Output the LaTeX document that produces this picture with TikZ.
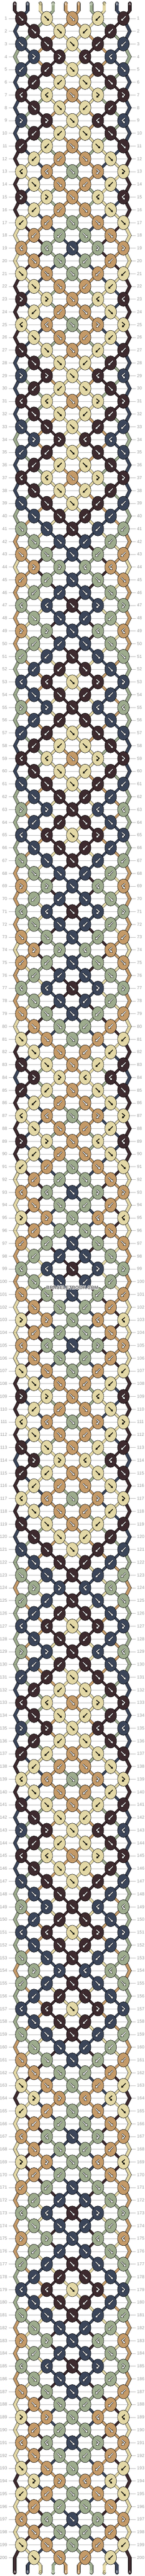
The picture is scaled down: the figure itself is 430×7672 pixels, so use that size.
\documentclass[tikz,border=0pt]{standalone}
\usepackage{fontspec}
\setmainfont{Liberation Sans}
\usetikzlibrary{arrows.meta}
\definecolor{cA}{HTML}{3D2A2E}
\definecolor{cB}{HTML}{3B4559}
\definecolor{cC}{HTML}{E3D8A6}
\definecolor{cD}{HTML}{9DAB8D}
\definecolor{cE}{HTML}{C49A68}
\definecolor{gridgrey}{HTML}{BDBDBD}
\definecolor{numgrey}{HTML}{9A9A9A}
\definecolor{labdark}{HTML}{2A2A2A}
\definecolor{wmgrey}{HTML}{5E5E5E}

% ---------- knot-type template (period 40 rows, left half) ----------
\def\mirF{B}\def\mirB{F}\def\mirR{L}\def\mirL{R}
\foreach \tl [count=\kn] in {F,F,F,R,B,B,L,F,R,B,B,B,L,F,R,B,B,B,L,F,F,F,R,B,L,F,F,F,R,B,L,F,F,R,B,B,L,F,F,F}{\expandafter\xdef\csname tpl\kn\endcsname{\tl}}

% ---------- simulation ----------
\newcommand\simknot[4]{%
  \pgfmathtruncatemacro\ppq{#3+1}%
  \edef\lcol{\csname s@\prw @#3\endcsname}%
  \edef\rcol{\csname s@\prw @\ppq\endcsname}%
  \if#4F\relax\edef\kcol{\lcol}\def\doswap{1}\fi
  \if#4B\relax\edef\kcol{\rcol}\def\doswap{1}\fi
  \if#4R\relax\edef\kcol{\lcol}\def\doswap{0}\fi
  \if#4L\relax\edef\kcol{\rcol}\def\doswap{0}\fi
  \expandafter\xdef\csname kc@#1@#2\endcsname{\kcol}%
  \expandafter\xdef\csname kt@#1@#2\endcsname{#4}%
  \if1\doswap
    \expandafter\xdef\csname s@#1@#3\endcsname{\rcol}%
    \expandafter\xdef\csname s@#1@\ppq\endcsname{\lcol}%
  \fi
}
\foreach \i/\cl in {0/A,1/B,2/C,3/D,4/E,5/E,6/D,7/C,8/B,9/A}{\expandafter\xdef\csname s@0@\i\endcsname{\cl}}
\foreach \rw in {1,...,200}{%
  \pgfmathtruncatemacro\prw{\rw-1}%
  \pgfmathtruncatemacro\tidx{mod(\rw-1,40)+1}%
  \edef\ktype{\csname tpl\tidx\endcsname}%
  \edef\ktypem{\csname mir\ktype\endcsname}%
  \foreach \i in {0,...,9}{\expandafter\xdef\csname s@\rw @\i\endcsname{\csname s@\prw @\i\endcsname}}%
  \ifodd\rw\relax
    \simknot{\rw}{0}{0}{\ktype}\simknot{\rw}{1}{2}{\ktype}\simknot{\rw}{2}{4}{F}\simknot{\rw}{3}{6}{\ktypem}\simknot{\rw}{4}{8}{\ktypem}%
  \else
    \simknot{\rw}{0}{1}{\ktype}\simknot{\rw}{1}{3}{\ktype}\simknot{\rw}{2}{5}{\ktypem}\simknot{\rw}{3}{7}{\ktypem}%
  \fi
}
% x of each string position on odd / even rows
\foreach \i/\x in {0/63,1/63,2/139,3/139,4/215,5/215,6/291,7/291,8/367,9/367}{\expandafter\xdef\csname pxo@\i\endcsname{\x}}
\foreach \i/\x in {0/44,1/101,2/101,3/177,4/177,5/253,6/253,7/329,8/329,9/386}{\expandafter\xdef\csname pxe@\i\endcsname{\x}}

\tikzset{
  numlab/.style={font=\fontsize{13}{15}\selectfont, text=numgrey, inner sep=0pt},
  strlab/.style={font=\fontsize{10}{12}\selectfont, inner sep=0pt},
  wm/.style={font=\bfseries\fontsize{14}{16}\selectfont, inner sep=0pt},
  knotshape/.style={draw=black, line width=0.9pt},
  arrUnder/.style={line width=4.2pt, black, -{Triangle[length=7.5pt,width=10pt]}, shorten >=-1.4pt, line join=miter},
  arrWhite/.style={line width=2.2pt, white, -{Triangle[length=5.5pt,width=7pt]}, line join=miter},
  arrDark/.style={line width=2.2pt, black, -{Triangle[length=5.5pt,width=7pt]}, line join=miter},
}
\newcommand\seg[6]{\fill[fill=#6] (#1-#5,#2) -- (#1+#5,#2) -- (#3+#5,#4) -- (#3-#5,#4) -- cycle;}
\newcommand\kglyph[2]{%
  \if#1F\relax\draw[#2] (-6.5,-6.5) -- (6.8,6.8);\fi
  \if#1B\relax\draw[#2] (6.5,-6.5) -- (-6.8,6.8);\fi
  \if#1R\relax\draw[#2] (-4.5,-7.5) -- (4,-0.5) -- (-4.5,7.5);\fi
  \if#1L\relax\draw[#2] (4.5,-7.5) -- (-4,-0.5) -- (4.5,7.5);\fi
}
\newcommand\stringpass[2]{%
  \foreach \i in {0,...,9}{%
    \pgfmathsetmacro\xs{44+38*\i}%
    \edef\kx{\csname pxo@\i\endcsname}%
    \ifnum#2=0 \def\fc{black}\else\edef\fc{c\csname s@0@\i\endcsname}\fi
    \fill[fill=\fc] (\xs,10) circle [radius=#1];
    \fill[fill=\fc] (\xs-#1,10) rectangle (\xs+#1,32);
    \seg{\xs}{32}{\kx}{55}{#1}{\fc}
  }%
  \foreach \rw in {1,...,199}{%
    \pgfmathsetmacro\ya{55+38*(\rw-1)}%
    \pgfmathsetmacro\yb{\ya+38}%
    \ifodd\rw\relax\def\pa{o}\def\pb{e}\else\def\pa{e}\def\pb{o}\fi
    \foreach \i in {0,...,9}{%
      \edef\xa{\csname px\pa @\i\endcsname}%
      \edef\xb{\csname px\pb @\i\endcsname}%
      \ifnum#2=0 \def\fc{black}\else\edef\fc{c\csname s@\rw @\i\endcsname}\fi
      \seg{\xa}{\ya}{\xb}{\yb}{#1}{\fc}
    }%
  }%
  \foreach \i in {0,...,9}{%
    \pgfmathsetmacro\xs{44+38*\i}%
    \edef\kx{\csname pxe@\i\endcsname}%
    \ifnum#2=0 \def\fc{black}\else\edef\fc{c\csname s@200@\i\endcsname}\fi
    \seg{\kx}{7617}{\xs}{7640}{#1}{\fc}
    \fill[fill=\fc] (\xs-#1,7640) rectangle (\xs+#1,7662);
    \fill[fill=\fc] (\xs,7662) circle [radius=#1];
  }%
}

\begin{document}
\begin{tikzpicture}[x=1pt,y=-1pt]
\useasboundingbox (0,0) rectangle (430,7672);
\fill[white] (0,0) rectangle (430,7672);
% row lines and numbers
\foreach \rw in {1,...,200}{%
  \pgfmathsetmacro\yy{55+38*(\rw-1)}%
  \draw[gridgrey, line width=0.9pt] (26,\yy) -- (403,\yy);
  \node[numlab, anchor=east] (L\rw) at (21.5,\yy) {\rw};
  \node[numlab, anchor=west] (R\rw) at (407.5,\yy) {\rw};
}
% strings: outline pass, then colour pass
\stringpass{5.3}{0}
\stringpass{4.3}{1}
% knots
\foreach \rw in {1,...,200}{%
  \pgfmathsetmacro\yy{55+38*(\rw-1)}%
  \ifodd\rw\relax\def\kmax{4}\def\cofs{0}\else\def\kmax{3}\def\cofs{1}\fi
  \foreach \k in {0,...,\kmax}{%
    \pgfmathsetmacro\xx{63+38*(2*\k+\cofs)}%
    \edef\kc{\csname kc@\rw @\k\endcsname}%
    \edef\kt{\csname kt@\rw @\k\endcsname}%
    \fill[fill=c\kc, knotshape] (\xx,\yy) ellipse [x radius=17.4, y radius=21.3];
    \begin{scope}[shift={(\xx,\yy)}]
      \if C\kc \kglyph{\kt}{arrDark}\else \kglyph{\kt}{arrUnder}\kglyph{\kt}{arrWhite}\fi
    \end{scope}
  }%
}
% string letters
\foreach \i/\l/\tc in {0/A/white,1/B/white,2/C/labdark,3/D/white,4/E/white,5/E/white,6/D/white,7/C/labdark,8/B/white,9/A/white}{%
  \pgfmathsetmacro\xs{44+38*\i}%
  \node[strlab, text=\tc] (top\i) at (\xs,12.7) {\l};
  \node[strlab, text=\tc] (bot\i) at (\xs,7659.5) {\l};
}
% watermark
\foreach \dx/\dy [count=\n] in {-1/0,1/0,0/-1,0/1,-0.8/-0.8,0.8/0.8,-0.8/0.8,0.8/-0.8}{%
  \node[wm, text=white] (wmh\n) at (215+\dx,3835+\dy) {BRACELETBOOK.COM};
}
\node[wm, text=wmgrey] (wm) at (215,3835) {BRACELETBOOK.COM};
\end{tikzpicture}
\end{document}
